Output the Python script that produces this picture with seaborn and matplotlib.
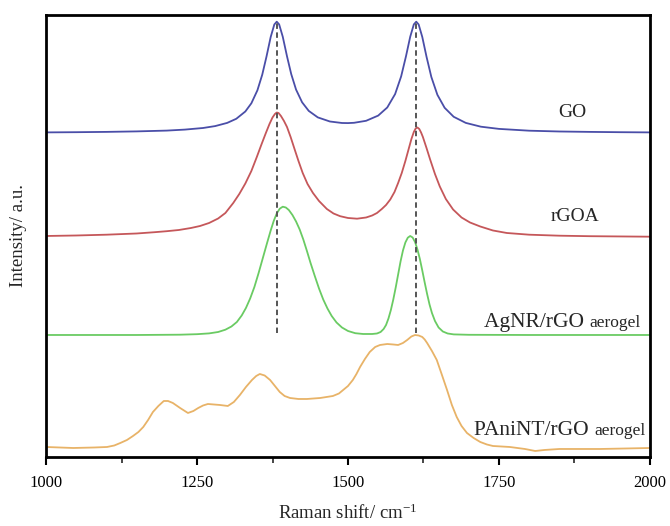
import numpy as np
import pandas as pd
import matplotlib
matplotlib.use("Agg")
import matplotlib.pyplot as plt
import seaborn as sns

# Raman spectra (wavenumber in cm^-1, intensity in offset arbitrary units)
go_x = [1000, 1050, 1100, 1150, 1200, 1230, 1260, 1280, 1300, 1315, 1330, 1340, 1350,
        1358, 1365, 1372, 1378, 1382, 1386, 1392, 1399, 1406, 1414, 1424, 1435, 1450,
        1470, 1490, 1500, 1510, 1530, 1550, 1565, 1578, 1588, 1596, 1603, 1609, 1613,
        1617, 1623, 1630, 1638, 1648, 1660, 1675, 1695, 1720, 1750, 1800, 1850, 1900,
        1950, 2000]
go_y = [324.6, 324.8, 325.1, 325.6, 326.4, 327.4, 329.0, 330.9, 334.1, 338.2, 345.5,
        353.7, 366.7, 382.3, 400.3, 420.0, 432.5, 435.3, 432.6, 420.2, 400.7, 382.9,
        367.4, 354.7, 346.1, 339.6, 335.5, 334.0, 333.9, 334.2, 336.2, 341.4, 349.5,
        362.9, 380.6, 400.7, 420.2, 432.6, 435.3, 432.5, 420.0, 400.3, 380.0, 362.2,
        349.2, 340.2, 334.1, 330.3, 328.1, 326.3, 325.5, 325.1, 324.8, 324.6]

rgoa_x = [1000, 1050, 1100, 1150, 1180, 1200, 1220, 1240, 1255, 1270, 1285, 1297, 1310,
          1320, 1330, 1340, 1349, 1357, 1364, 1370, 1375, 1379, 1382, 1385, 1389, 1394,
          1399, 1405, 1412, 1418, 1425, 1433, 1442, 1452, 1465, 1476, 1487, 1500, 1515,
          1530, 1540, 1548, 1556, 1563, 1570, 1577, 1583, 1589, 1595, 1600, 1605, 1609,
          1612, 1615, 1618, 1621, 1624, 1630, 1636, 1644, 1652, 1662, 1674, 1688, 1702,
          1719, 1740, 1763, 1800, 1850, 1900, 2000]
rgoa_y = [221.0, 221.5, 222.3, 223.5, 224.8, 225.8, 227.0, 229.0, 231.0, 234.0, 238.5,
          244.0, 254.0, 263.0, 273.5, 286.0, 300.0, 313.0, 324.0, 333.0, 339.5, 343.0,
          344.5, 344.0, 341.0, 336.0, 330.0, 320.0, 307.0, 296.0, 284.0, 273.0, 264.0,
          256.0, 248.0, 243.5, 240.8, 239.0, 238.3, 239.5, 241.5, 244.0, 248.0, 252.0,
          257.5, 265.0, 274.0, 284.0, 296.0, 307.0, 318.0, 325.0, 328.5, 329.5, 328.0,
          324.5, 320.0, 309.0, 297.5, 283.0, 270.5, 258.0, 247.5, 239.5, 234.5, 230.5,
          226.5, 224.0, 222.3, 221.3, 220.8, 220.3]

agnr_x = [1000, 1150, 1222, 1250, 1270, 1285, 1297, 1307, 1316, 1324, 1331, 1338, 1345,
          1352, 1359, 1366, 1372, 1377, 1382, 1387, 1392, 1397, 1402, 1408, 1414, 1420,
          1426, 1432, 1438, 1445, 1452, 1459, 1466, 1473, 1481, 1490, 1500, 1512, 1525,
          1540, 1548, 1554, 1559, 1563, 1567, 1571, 1575, 1579, 1583, 1587, 1591, 1595,
          1599, 1603, 1607, 1611, 1615, 1619, 1623, 1627, 1631, 1635, 1639, 1644, 1650,
          1657, 1665, 1675, 1700, 1800, 2000]
agnr_y = [122.0, 122.0, 122.3, 122.8, 123.6, 125.0, 127.3, 130.5, 135.0, 141.5, 149.0,
          158.5, 170.0, 184.0, 199.0, 214.0, 226.5, 236.0, 243.5, 248.3, 250.3, 249.5,
          247.0, 242.0, 235.5, 227.5, 217.5, 206.0, 194.0, 181.0, 168.5, 157.5, 148.5,
          141.0, 134.5, 129.5, 126.0, 123.8, 123.0, 123.0, 123.5, 125.0, 128.0, 132.0,
          138.5, 147.0, 157.5, 169.5, 182.5, 195.5, 206.5, 214.5, 219.3, 221.0, 219.5,
          215.0, 207.5, 198.0, 186.5, 174.5, 163.0, 152.5, 144.0, 136.0, 129.5, 125.5,
          123.5, 122.6, 122.2, 122.0, 122.0]

pani_x = [1000, 1045, 1080, 1101, 1113, 1123, 1134, 1144, 1153, 1161, 1169, 1177, 1186,
          1195, 1202, 1210, 1222, 1235, 1244, 1252, 1260, 1268, 1278, 1288, 1301, 1311,
          1321, 1331, 1341, 1348, 1354, 1362, 1371, 1379, 1387, 1395, 1404, 1418, 1432,
          1454, 1475, 1485, 1492, 1500, 1508, 1514, 1520, 1528, 1536, 1545, 1553, 1565,
          1575, 1583, 1591, 1598, 1605, 1611, 1617, 1623, 1627, 1631, 1639, 1647, 1655,
          1664, 1672, 1680, 1688, 1697, 1708, 1719, 1730, 1740, 1768, 1793, 1810, 1825,
          1850, 1917, 1960, 2000]
pani_y = [10, 9, 9.5, 10, 11.5, 14, 17, 21, 25, 30, 37, 45, 51,
          56, 56, 54, 49, 44, 46, 49, 51.5, 53, 52.5, 52, 51, 55,
          62, 70, 77, 81, 83, 81.5, 77, 71, 65, 61, 59, 58, 58,
          59, 61, 63.5, 67, 71, 77, 83, 90, 98, 105, 110, 112, 113,
          112.5, 112, 114, 117, 120.5, 122, 121.5, 120, 117.5, 114, 106, 97, 83,
          67, 52, 40, 31, 24, 19, 15, 12.5, 11, 10, 8, 6, 7,
          8, 8, 8.5, 9]

series_names = ["GO", "rGOA", "AgNR/rGO aerogel", "PAniNT/rGO aerogel"]
series_colors = ["#4a4ea8", "#c5575a", "#6acb63", "#e8b368"]

# D and G band reference positions
band_positions = [1382, 1613]
band_span = (124, 435)

x_ticks = [1000, 1250, 1500, 1750, 2000]

frames = []
for name, xs, ys in zip(series_names,
                        [go_x, rgoa_x, agnr_x, pani_x],
                        [go_y, rgoa_y, agnr_y, pani_y]):
    frames.append(pd.DataFrame({"shift": xs, "intensity": ys, "sample": name}))
df = pd.concat(frames, ignore_index=True)

sns.set_theme(style="white")
plt.rcParams["font.family"] = ["Liberation Serif"]
plt.rcParams["mathtext.default"] = "regular"

DPI = 100
fig = plt.figure(figsize=(6.70, 5.26), dpi=DPI)
ax = fig.add_axes([0.0687, 0.1312, 0.9014, 0.8403])

sns.lineplot(data=df, x="shift", y="intensity", hue="sample",
             palette=dict(zip(series_names, series_colors)),
             sort=False, estimator=None, legend=False, linewidth=1.3, ax=ax)

for xb in band_positions:
    ax.vlines(xb, band_span[0], band_span[1], colors="#555555",
              linestyles=(0, (2.8, 1.8)), linewidth=1.4, zorder=3)

ax.set_xlim(1000, 2000)
ax.set_ylim(0, 442)
ax.set_xticks(x_ticks)
ax.set_xticklabels([str(t) for t in x_ticks])
ax.set_xticks([1125, 1375, 1625, 1875], minor=True)
ax.set_yticks([])
ax.tick_params(axis="x", which="major", direction="out", length=6, width=1.5,
               labelsize=12, pad=7, colors="black", bottom=True)
ax.tick_params(axis="x", which="minor", direction="out", length=4, width=1.2,
               bottom=True)
for side in ax.spines.values():
    side.set_visible(True)
    side.set_color("black")
    side.set_linewidth(2.0)

ax.set_xlabel("Raman shift/ cm$^{-1}$", fontsize=13.5, labelpad=9)
ax.set_ylabel("Intensity/ a.u.", fontsize=13.5, labelpad=14)

ax.text(1871, 344, "GO", fontsize=14, ha="center", va="center")
ax.text(1876, 240, "rGOA", fontsize=14, ha="center", va="center")

# composite labels: large sample name followed by a smaller "aerogel", sharing a baseline
renderer = fig.canvas.get_renderer()
for main, tail_x, yy in [("AgNR/rGO", 1985, 130), ("PAniNT/rGO", 1992, 22)]:
    tail = ax.text(tail_x, yy, "aerogel", fontsize=12.5, ha="right", va="baseline")
    tail_w_pt = tail.get_window_extent(renderer).width * 72.0 / DPI
    ax.annotate(main + " ", xy=(tail_x, yy), xycoords="data",
                xytext=(-tail_w_pt, 0), textcoords="offset points",
                fontsize=15.5, ha="right", va="baseline", annotation_clip=False)

fig.savefig("out.png", dpi=DPI)
